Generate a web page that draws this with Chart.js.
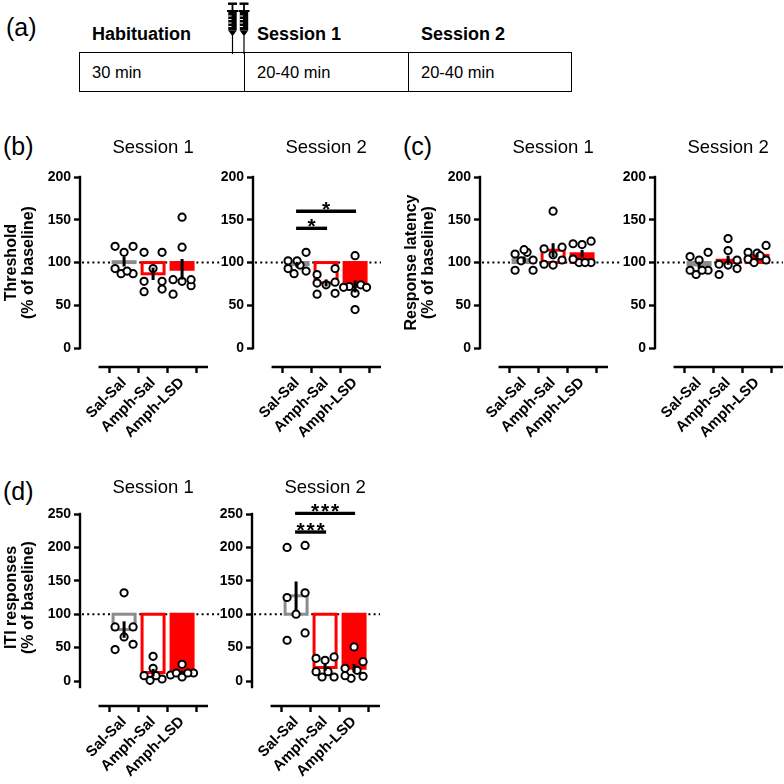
<!DOCTYPE html>
<html>
<head>
<meta charset="utf-8">
<script src="https://cdn.jsdelivr.net/npm/chart.js@4.4.1/dist/chart.umd.min.js"></script>
<style>
  html, body { margin: 0; padding: 0; background: #fff; }
  #fig { position: relative; width: 784px; height: 784px; overflow: hidden;
         font-family: 'Liberation Sans', Arial, sans-serif; color: #000; }
  #fig canvas { position: absolute; }
  .plbl { position: absolute; font-size: 25px; line-height: 25px; }
  .stage { position: absolute; font-size: 18px; line-height: 18px; font-weight: bold; }
  #timeline { position: absolute; left: 79px; top: 52px; width: 493px; height: 40px;
              box-sizing: border-box; border: 1.5px solid #000; display: flex; }
  #timeline .cell { box-sizing: border-box; height: 100%; display: flex; align-items: center;
                    padding-left: 12px; font-size: 16.5px; }
  #timeline .cell + .cell { border-left: 1.5px solid #000; }
</style>
</head>
<body>
<div id="fig">
  <div class="plbl" style="left:6px;top:15px">(a)</div>
  <div class="stage" style="left:92px;top:25px">Habituation</div>
  <div class="stage" style="left:257px;top:25px">Session 1</div>
  <div class="stage" style="left:421px;top:25px">Session 2</div>
  <div id="timeline">
    <div class="cell" style="width:164px">30 min</div>
    <div class="cell" style="width:164px">20-40 min</div>
    <div class="cell" style="flex:1">20-40 min</div>
  </div>
  <svg width="34" height="54" style="position:absolute;left:222px;top:0">
    <g>
      <rect x="6" y="2.5" width="9" height="2.4"/>
      <rect x="9.6" y="4.5" width="1.8" height="6"/>
      <rect x="5" y="10" width="11" height="2"/>
      <rect x="6.3" y="11.5" width="8.4" height="19"/>
      <path d="M6.3 16H9.5M6.3 19.5H9.5M6.3 23H9.5M6.3 26.5H9.5" stroke="#fff" stroke-width="1"/>
      <path d="M6.3 30.5L14.7 30.5L11.5 35L9.5 35Z"/>
      <path d="M10.5 35V54" stroke="#000" stroke-width="1.2"/>
    </g>
    <g transform="translate(11.5,0)">
      <rect x="6" y="2.5" width="9" height="2.4"/>
      <rect x="9.6" y="4.5" width="1.8" height="6"/>
      <rect x="5" y="10" width="11" height="2"/>
      <rect x="6.3" y="11.5" width="8.4" height="19"/>
      <path d="M6.3 16H9.5M6.3 19.5H9.5M6.3 23H9.5M6.3 26.5H9.5" stroke="#fff" stroke-width="1"/>
      <path d="M6.3 30.5L14.7 30.5L11.5 35L9.5 35Z"/>
      <path d="M10.5 35V54" stroke="#000" stroke-width="1.2"/>
    </g>
  </svg>

  <div class="plbl" style="left:3px;top:134px">(b)</div>
  <div class="plbl" style="left:403px;top:134px">(c)</div>
  <div class="plbl" style="left:3px;top:479px">(d)</div>

  <canvas id="thrS1" width="220" height="320" style="left:0;top:130px"></canvas>
  <canvas id="thrS2" width="200" height="320" style="left:200px;top:130px"></canvas>
  <canvas id="latS1" width="230" height="320" style="left:390px;top:130px"></canvas>
  <canvas id="latS2" width="184" height="320" style="left:600px;top:130px"></canvas>
  <canvas id="itiS1" width="220" height="319" style="left:0;top:465px"></canvas>
  <canvas id="itiS2" width="200" height="319" style="left:200px;top:465px"></canvas>
</div>

<script>
const groups = ['Sal-Sal', 'Amph-Sal', 'Amph-LSD'];
const ticks200 = [0, 50, 100, 150, 200];
const ticks250 = [0, 50, 100, 150, 200, 250];
const baseline = 100;

// (b) threshold, % of baseline
const thrS1SalSal  = [112, 119, 119, 87, 93, 87, 90];
const thrS1AmphSal = [112, 112, 93, 78, 78, 66, 69];
const thrS1AmphLSD = [153, 118, 73, 80, 80, 78, 63];
const thrS2SalSal  = [112, 97, 102, 102, 87, 93, 90];
const thrS2AmphSal = [93, 74, 77, 86, 76, 63, 64];
const thrS2AmphLSD = [108, 74, 72, 71, 71, 64, 45];

// (c) response latency, % of baseline
const latS1SalSal  = [112, 110, 115, 102, 103, 91, 91];
const latS1AmphSal = [160, 116, 118, 103, 97, 109, 98];
const latS1AmphLSD = [122, 125, 121, 100, 104, 100, 100];
const latS2SalSal  = [112, 103, 86, 91, 91, 91, 107];
const latS2AmphSal = [128, 114, 98, 86, 97, 103, 93];
const latS2AmphLSD = [120, 103, 111, 108, 112, 104, 100];

// (d) ITI responses, % of baseline
const itiS1SalSal  = [132, 81, 66, 47, 81, 55];
const itiS1AmphSal = [37, 19, 3, 8, 8, 1];
const itiS1AmphLSD = [25, 9, 12, 12, 6, 12];
const itiS2SalSal  = [200, 203, 125, 132, 100, 61, 72];
const itiS2AmphSal = [31, 36, 34, 6, 14, 6, 14];
const itiS2AmphLSD = [51, 29, 16, 4, 8, 19, 7];

// significance brackets: [from group, to group, level, stars]
const sigThrS2 = [[0, 1, 140, '*'], [0, 2, 160, '*']];
const sigItiS2 = [[0, 1, 223, '***'], [0, 2, 251, '***']];

const FONT = "'Liberation Sans', Arial, sans-serif";
const GREY = '#8c8c8c';
const RED = '#ff0000';
const X_MIN = -1.52;
const X_SPAN = 128 / 29;   // chart area is 128px, 29px per group
Chart.defaults.font.family = FONT;

function mean(a) { return a.reduce((s, v) => s + v, 0) / a.length; }
function sem(a) {
  const m = mean(a);
  const ss = a.reduce((s, v) => s + (v - m) * (v - m), 0);
  return Math.sqrt(ss / (a.length - 1)) / Math.sqrt(a.length);
}

// scatter spread like GraphPad: points that sit at about the same height
// share a row, the row is centred on the group and filled to keep circles apart
function swarm(vals, toPx, d) {
  const py = vals.map(toPx);
  const idx = vals.map((v, i) => i).sort((a, b) => vals[a] - vals[b]);
  const out = [];
  let k = 0;
  while (k < idx.length) {
    const row = [idx[k]];
    while (k + row.length < idx.length && Math.abs(py[idx[k + row.length]] - py[idx[k]]) < d) {
      row.push(idx[k + row.length]);
    }
    k += row.length;
    const n = row.length;
    const half = n === 1 ? 0 : n <= 3 ? d : d + (n - 4) * 2.5;
    const slots = row.map((_, j) => n === 1 ? 0 : -half + j * 2 * half / (n - 1));
    const placed = [];
    row.forEach(i => {
      let best = -1, bestScore = -1;
      slots.forEach((s, j) => {
        if (s === null) return;
        const score = placed.length ? Math.min(...placed.map(p => Math.hypot(s - p.x, py[i] - p.y))) : 1e9;
        if (best < 0 || score > bestScore + 1e-6 ||
            (Math.abs(score - bestScore) < 1e-6 && Math.abs(s) < Math.abs(slots[best]) - 1e-6)) {
          best = j; bestScore = score;
        }
      });
      out[i] = slots[best];
      placed.push({x: slots[best], y: py[i]});
      slots[best] = null;
    });
  }
  return out;
}

const rowTop = {yMin: -22.1, yMax: 200, ticks: ticks200, yAxis: [0, 200], padTop: 47, xh: 83, titleGap: 24};
const rowBottom = {yMin: -37.4, yMax: 250, ticks: ticks250, yAxis: [-9, 250], padTop: 49, xh: 78, titleGap: 21};

function makeChart(id, row, o) {
  const canvas = document.getElementById(id);
  const means = o.sets.map(mean);
  const sems = o.sets.map(sem);
  const bar = (g) => ({x: g, y: [means[g], baseline]});

  const deco = {
    id: 'deco',
    beforeDatasetsDraw(chart) {
      const {ctx, chartArea: a, scales: {y}} = chart;
      const py = y.getPixelForValue(baseline);
      ctx.save();
      ctx.strokeStyle = '#000';
      ctx.lineWidth = 2;
      ctx.setLineDash([2, 3.2]);
      ctx.beginPath();
      ctx.moveTo(a.left + 2, py);
      ctx.lineTo(o.dotsToEdge ? chart.width : a.right, py);
      ctx.stroke();
      ctx.restore();
    },
    afterDraw(chart) {
      const {ctx, chartArea: a, scales: {x, y}} = chart;
      ctx.save();
      ctx.strokeStyle = '#000';
      ctx.fillStyle = '#000';
      ctx.lineWidth = 2.4;
      // axes (GraphPad style, x axis offset from y axis)
      ctx.beginPath();
      ctx.moveTo(a.left, y.getPixelForValue(row.yAxis[0]) + 1.2);
      ctx.lineTo(a.left, y.getPixelForValue(row.yAxis[1]) - 1.2);
      ctx.stroke();
      ctx.beginPath();
      ctx.moveTo(x.getPixelForValue(-0.88), a.bottom);
      ctx.lineTo(a.right, a.bottom);
      ctx.stroke();
      // session title
      ctx.font = `18.5px ${FONT}`;
      ctx.textAlign = 'center';
      ctx.textBaseline = 'alphabetic';
      ctx.fillText(o.title, x.getPixelForValue(1), a.top - row.titleGap);
      // y axis title
      if (o.yTitle) {
        const cy = (y.getPixelForValue(0) + y.getPixelForValue(row.ticks[row.ticks.length - 1])) / 2;
        ctx.font = `bold 16px ${FONT}`;
        ctx.textBaseline = 'middle';
        o.yTitle.forEach((t, i) => {
          ctx.save();
          ctx.translate(a.left - 68 + 17 * i, cy);
          ctx.rotate(-Math.PI / 2);
          ctx.fillText(t, 0, 0);
          ctx.restore();
        });
      }
      // significance bars
      (o.sig || []).forEach(([g0, g1, h, stars]) => {
        const x0 = x.getPixelForValue(g0);
        const x1 = x.getPixelForValue(g1);
        const py = y.getPixelForValue(h);
        ctx.lineWidth = 3.4;
        ctx.beginPath();
        ctx.moveTo(x0 - 1, py);
        ctx.lineTo(x1 + 1, py);
        ctx.stroke();
        ctx.font = `bold 21px ${FONT}`;
        ctx.textBaseline = 'alphabetic';
        const cx = (x0 + x1) / 2;
        for (let k = 0; k < stars.length; k++) {
          ctx.fillText(stars[k], cx + (k - (stars.length - 1) / 2) * 10, py + 5);
        }
      });
      ctx.restore();
    }
  };

  const chart = new Chart(canvas, {
    type: 'bar',
    data: {
      datasets: [
        { label: 'mean', order: 5, grouped: false, data: [0, 1, 2].map(bar),
          backgroundColor: [GREY, RED, RED], borderWidth: 0, barThickness: 22, inflateAmount: 1.5 },
        { label: 'hollow', order: 4, grouped: false, data: [0, 1].map(bar),
          backgroundColor: '#fff', borderWidth: 0, barThickness: 22, inflateAmount: -1.5 },
        { label: 'animals', type: 'scatter', order: 2,
          data: o.sets.flatMap((vals, g) => vals.map(v => ({x: g, y: v}))),
          pointRadius: 3.6, pointBorderWidth: 2, pointBackgroundColor: '#fff', pointBorderColor: '#000' },
        { label: 'sem', order: 1, grouped: false,
          data: means.map((m, g) => ({x: g, y: [m - sems[g], m + sems[g]]})),
          backgroundColor: '#000', borderWidth: 0, barThickness: 3, inflateAmount: 0 }
      ]
    },
    options: {
      responsive: false,
      animation: false,
      events: [],
      layout: { autoPadding: false,
                padding: {left: 0, top: row.padTop, right: canvas.width - o.yw - 128, bottom: 0} },
      plugins: { legend: {display: false}, tooltip: {enabled: false} },
      scales: {
        x: {
          type: 'linear', min: X_MIN, max: X_MIN + X_SPAN, offset: false,
          afterBuildTicks: ax => { ax.ticks = groups.map((_, i) => ({value: i})); },
          afterFit: ax => { ax.height = row.xh; },
          border: {display: false},
          grid: {drawOnChartArea: false, tickLength: 6, tickWidth: 2.4, tickColor: '#000'},
          ticks: { autoSkip: false, minRotation: 45, maxRotation: 45, padding: 1, color: '#000',
                   font: {size: 15, weight: 'bold'}, callback: v => groups[v] }
        },
        y: {
          min: row.yMin, max: row.yMax,
          afterBuildTicks: ax => { ax.ticks = row.ticks.map(v => ({value: v})); },
          afterFit: ax => { ax.width = o.yw; },
          border: {display: false},
          grid: {drawOnChartArea: false, tickLength: 6, tickWidth: 2.4, tickColor: '#000'},
          ticks: { padding: 3, color: '#000', font: {size: 14, weight: 'bold'} }
        }
      }
    },
    plugins: [deco]
  });

  // spread the animals horizontally now that the scales exist
  const xs = chart.scales.x;
  const ys = chart.scales.y;
  const unit = xs.getPixelForValue(1) - xs.getPixelForValue(0);
  const pts = [];
  o.sets.forEach((vals, g) => {
    const offs = swarm(vals, v => ys.getPixelForValue(v), 9);
    vals.forEach((v, k) => pts.push({x: g + offs[k] / unit, y: v}));
  });
  chart.data.datasets[2].data = pts;
  // very short hollow bars look solid in the original
  chart.data.datasets[1].data = [0, 1]
    .filter(g => Math.abs(ys.getPixelForValue(means[g]) - ys.getPixelForValue(baseline)) > 3)
    .map(bar);
  chart.update();
  return chart;
}

makeChart('thrS1', rowTop, { sets: [thrS1SalSal, thrS1AmphSal, thrS1AmphLSD], yw: 80,
  title: 'Session 1', yTitle: ['Threshold', '(% of baseline)'], dotsToEdge: true });
makeChart('thrS2', rowTop, { sets: [thrS2SalSal, thrS2AmphSal, thrS2AmphLSD], yw: 53,
  title: 'Session 2', sig: sigThrS2 });
makeChart('latS1', rowTop, { sets: [latS1SalSal, latS1AmphSal, latS1AmphLSD], yw: 90,
  title: 'Session 1', yTitle: ['Response latency', '(% of baseline)'], dotsToEdge: true });
makeChart('latS2', rowTop, { sets: [latS2SalSal, latS2AmphSal, latS2AmphLSD], yw: 55,
  title: 'Session 2' });
makeChart('itiS1', rowBottom, { sets: [itiS1SalSal, itiS1AmphSal, itiS1AmphLSD], yw: 80,
  title: 'Session 1', yTitle: ['ITI responses', '(% of baseline)'], dotsToEdge: true });
makeChart('itiS2', rowBottom, { sets: [itiS2SalSal, itiS2AmphSal, itiS2AmphLSD], yw: 52,
  title: 'Session 2', sig: sigItiS2 });
</script>
</body>
</html>
